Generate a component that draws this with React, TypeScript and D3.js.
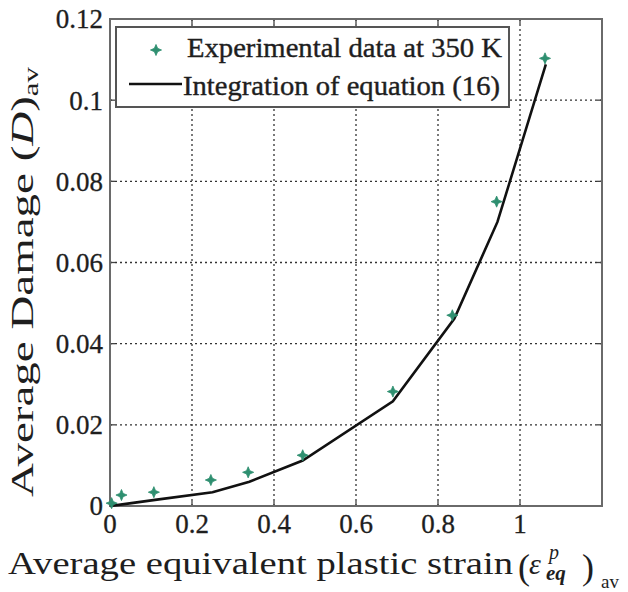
import React from "react";
import * as d3 from "d3";

const expStrain = [0.004, 0.028, 0.107, 0.246, 0.337, 0.47, 0.69, 0.835, 0.943, 1.061];
const expDamage = [0.0007, 0.0027, 0.0034, 0.0064, 0.0083, 0.0125, 0.0282, 0.047, 0.075, 0.1103];

const fitStrain = [0, 0.03, 0.11, 0.25, 0.34, 0.47, 0.69, 0.84, 0.945, 1.063];
const fitDamage = [0, 0.0004, 0.0015, 0.0034, 0.006, 0.0112, 0.0258, 0.0462, 0.0700, 0.1088];

const xTicks = [0, 0.2, 0.4, 0.6, 0.8, 1];
const xTickLabels = ["0", "0.2", "0.4", "0.6", "0.8", "1"];
const yTicks = [0, 0.02, 0.04, 0.06, 0.08, 0.1, 0.12];
const yTickLabels = ["0", "0.02", "0.04", "0.06", "0.08", "0.1", "0.12"];

const legendLabels = ["Experimental data at 350 K", "Integration of equation (16)"];

const W = 628;
const H = 592;
const L = 110, R = 602, T = 19, B = 506;

const FONT = "Liberation Serif";
const GREEN = "#2e8f70";
const TXT = "#1e1e1e";
const fs = (size: number, extra: React.CSSProperties = {}): React.CSSProperties => ({
  fontFamily: FONT,
  fontSize: size + "px",
  ...extra,
});

// 4-point star symbol type for d3.symbol
const star4 = {
  draw(context: any, size: number) {
    const r = Math.sqrt(size) * 0.75;
    const ri = r * 0.42;
    for (let k = 0; k < 8; k++) {
      const a = (k * Math.PI) / 4 - Math.PI / 2;
      const rr = k % 2 === 0 ? r : ri;
      const px = Math.cos(a) * rr;
      const py = Math.sin(a) * rr;
      if (k === 0) context.moveTo(px, py);
      else context.lineTo(px, py);
    }
    context.closePath();
  },
};

export default function App() {
  const x = d3.scaleLinear().domain([0, 1.2]).range([L, R]);
  const y = d3.scaleLinear().domain([0, 0.12]).range([B, T]);

  const line = d3
    .line<number>()
    .x((_, i) => x(fitStrain[i]))
    .y((d) => y(d));
  const linePath = line(fitDamage) || "";

  const star = d3.symbol().type(star4 as any).size(55)() || "";

  return (
    <svg
      width={W}
      height={H}
      viewBox={`0 0 ${W} ${H}`}
      style={{ position: "absolute", left: 0, top: 0, background: "#fff", fontFamily: FONT }}
    >
      <rect x={0} y={0} width={W} height={H} fill="#fff" />
      {/* grid */}
      {xTicks.filter((t) => t > 0).map((t) => (
        <line key={"gx" + t} x1={x(t)} x2={x(t)} y1={B} y2={T} stroke="#333" strokeWidth={1.3} strokeDasharray="2,3" />
      ))}
      {yTicks.filter((t) => t > 0 && t < 0.12).map((t) => (
        <line key={"gy" + t} x1={L} x2={R} y1={y(t)} y2={y(t)} stroke="#333" strokeWidth={1.3} strokeDasharray="2,3" />
      ))}
      {/* ticks */}
      {xTicks.map((t) => (
        <g key={"tx" + t}>
          <line x1={x(t)} x2={x(t)} y1={B} y2={B - 5} stroke="#444" strokeWidth={1.3} />
          <line x1={x(t)} x2={x(t)} y1={T} y2={T + 5} stroke="#444" strokeWidth={1.3} />
        </g>
      ))}
      {yTicks.map((t) => (
        <g key={"ty" + t}>
          <line x1={L} x2={L + 5} y1={y(t)} y2={y(t)} stroke="#444" strokeWidth={1.3} />
          <line x1={R} x2={R - 5} y1={y(t)} y2={y(t)} stroke="#444" strokeWidth={1.3} />
        </g>
      ))}
      {/* frame */}
      <rect x={L} y={T} width={R - L} height={B - T} fill="none" stroke="#6a6a6a" strokeWidth={2} />

      {/* fit line */}
      <path d={linePath} fill="none" stroke="#111" strokeWidth={2.6} />
      {/* experimental points */}
      {expStrain.map((s, i) => (
        <path key={"p" + i} d={star} transform={`translate(${x(s)},${y(expDamage[i])})`} fill={GREEN} stroke={GREEN} strokeWidth={0.8} />
      ))}

      {/* legend */}
      <rect x={116} y={27} width={393} height={80} fill="#fff" stroke="#555" strokeWidth={2} />
      <path d={star} transform="translate(156,50)" fill={GREEN} stroke={GREEN} strokeWidth={0.8} />
      <line x1={129} x2={182} y1={84} y2={84} stroke="#111" strokeWidth={2.6} />
      <text x={187} y={56.5} style={fs(28)} fill={TXT} stroke={TXT} strokeWidth={0.4} textLength={315} lengthAdjust="spacingAndGlyphs">
        {legendLabels[0]}
      </text>
      <text x={183} y={95} style={fs(28)} fill={TXT} stroke={TXT} strokeWidth={0.4} textLength={317} lengthAdjust="spacingAndGlyphs">
        {legendLabels[1]}
      </text>

      {/* y tick labels */}
      {yTicks.map((t, i) => (
        <text key={"yl" + t} x={103} y={y(t)} dy="0.35em" textAnchor="end" style={fs(27)} fill={TXT} stroke={TXT} strokeWidth={0.3}>
          {yTickLabels[i]}
        </text>
      ))}
      {/* x tick labels */}
      {xTicks.map((t, i) => (
        <text key={"xl" + t} x={x(t)} y={533} textAnchor="middle" style={fs(27)} fill={TXT} stroke={TXT} strokeWidth={0.3}>
          {xTickLabels[i]}
        </text>
      ))}

      {/* x axis label */}
      <text x={8} y={574} style={fs(32)} fill={TXT} textLength={505} lengthAdjust="spacingAndGlyphs">
        Average equivalent plastic strain
      </text>
      <text x={518} y={579} style={fs(36)} fill={TXT}>(</text>
      <text x={529} y={574} style={fs(30, { fontStyle: "italic" })} fill={TXT}>ε</text>
      <text x={549} y={559} style={fs(20, { fontStyle: "italic" })} fill={TXT}>p</text>
      <text x={546} y={580} style={fs(21, { fontStyle: "italic", fontWeight: "bold" })} fill={TXT}>eq</text>
      <text x={582} y={579} style={fs(36)} fill={TXT}>)</text>
      <text x={601} y={588} style={fs(19)} fill={TXT}>av</text>

      {/* y axis label */}
      <g transform="translate(33,497) rotate(-90)">
        <text x={0} y={0} style={fs(32)} fill={TXT} textLength={430} lengthAdjust="spacingAndGlyphs">
          Average Damage (<tspan style={{ fontStyle: "italic" }}>D</tspan>)<tspan style={{ fontSize: "21px" }} dy={5}>av</tspan>
        </text>
      </g>
    </svg>
  );
}
